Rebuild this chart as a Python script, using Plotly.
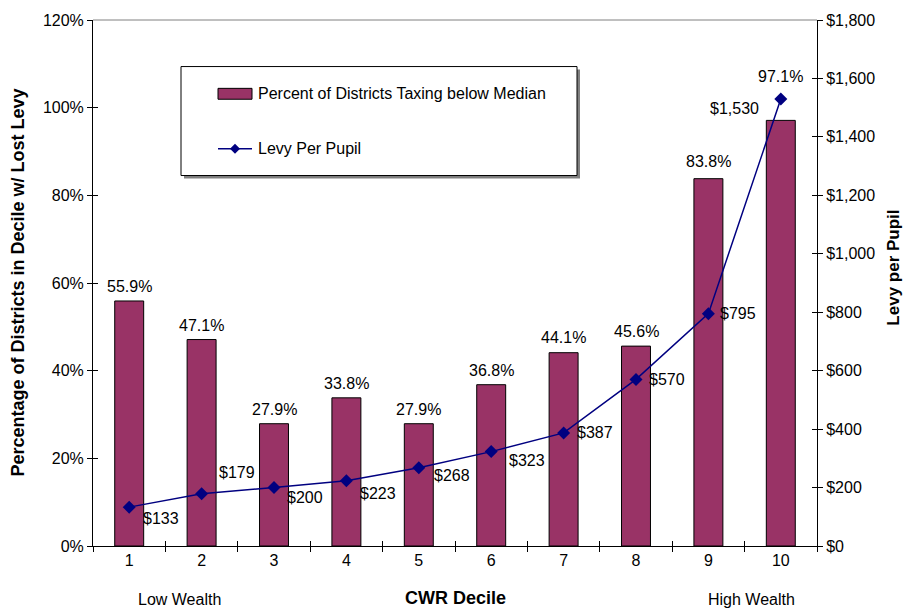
import plotly.graph_objects as go

deciles = ["1", "2", "3", "4", "5", "6", "7", "8", "9", "10"]
pct_below_median = [55.9, 47.1, 27.9, 33.8, 27.9, 36.8, 44.1, 45.6, 83.8, 97.1]
levy_per_pupil = [133, 179, 200, 223, 268, 323, 387, 570, 795, 1530]
left_ticks = [0, 20, 40, 60, 80, 100, 120]
right_ticks = [0, 200, 400, 600, 800, 1000, 1200, 1400, 1600, 1800]
bar_name = "Percent of Districts Taxing below Median"
line_name = "Levy Per Pupil"

# label offsets (px)
lab_dx = [12, 15, 11, 12, 13, 16, 11, 11, 10, -20]
lab_dy = [-11, 21, -10, -13, -8, -9, 0, 0, 0, -10]
lab_anchor = ["left"] * 9 + ["right"]
pct_dy = [14, 14, 14, 14, 14, 14, 15, 15, 17, 44]

FONT = "Arial, Liberation Sans, sans-serif"
FS = 16
TFS = 18
BAR_COLOR = "#993366"
LINE_COLOR = "#000080"
W, H = 905, 611
L, R, T, B = 93, 88, 15, 65
pw, ph = W - L - R, H - T - B


def px(x):
    return (x - L) / pw


def py(y):
    return (H - B - y) / ph


fig = go.Figure()
fig.add_trace(go.Bar(
    x=list(range(len(deciles))), y=pct_below_median, name=bar_name,
    marker=dict(color=BAR_COLOR, line=dict(color="black", width=1)),
    width=0.4, showlegend=False,
))
fig.add_trace(go.Scatter(
    x=list(range(len(deciles))), y=levy_per_pupil, name=line_name, yaxis="y2",
    mode="lines+markers", line=dict(color=LINE_COLOR, width=1.5),
    marker=dict(symbol="diamond", size=10, color=LINE_COLOR),
    cliponaxis=False, showlegend=False,
))

blk = dict(family=FONT, color="black")
ann = []
for i, v in enumerate(pct_below_median):
    ann.append(dict(x=i, y=v, xref="x", yref="y", text=f"{v:.1f}%", showarrow=False,
                    xanchor="center", yanchor="middle", yshift=pct_dy[i],
                    font=dict(size=FS, **blk)))
for i, v in enumerate(levy_per_pupil):
    ann.append(dict(x=i, y=v, xref="x", yref="y2", text=f"${v:,}", showarrow=False,
                    xanchor=lab_anchor[i], yanchor="middle", xshift=lab_dx[i], yshift=lab_dy[i],
                    font=dict(size=FS, **blk)))

ann += [
    dict(x=px(18), y=py(280), xref="paper", yref="paper",
         text="<b>Percentage of Districts in Decile w/ Lost Levy</b>",
         textangle=-90, showarrow=False, xanchor="center", yanchor="middle", font=dict(size=TFS, **blk)),
    dict(x=px(894), y=py(265), xref="paper", yref="paper", text="<b>Levy per Pupil</b>", textangle=-90,
         showarrow=False, xanchor="center", yanchor="middle", font=dict(size=17, **blk)),
    dict(x=0.5, y=py(598), xref="paper", yref="paper", text="<b>CWR Decile</b>", showarrow=False,
         xanchor="center", yanchor="middle", font=dict(size=TFS, **blk)),
    dict(x=0.69, y=py(600), xref="x", yref="paper", text="Low Wealth", showarrow=False,
         xanchor="center", yanchor="middle", font=dict(size=FS, **blk)),
    dict(x=8.6, y=py(600), xref="x", yref="paper", text="High Wealth", showarrow=False,
         xanchor="center", yanchor="middle", font=dict(size=FS, **blk)),
    # legend texts
    dict(x=px(256), y=py(89), xref="paper", yref="paper", text=bar_name, showarrow=False,
         xanchor="left", yanchor="middle", font=dict(size=FS, **blk)),
    dict(x=px(256), y=py(145), xref="paper", yref="paper", text=line_name, showarrow=False,
         xanchor="left", yanchor="middle", font=dict(size=FS, **blk)),
]

dx, dy = 5, 5
cx, cy = 235, 145
shapes = [
    # plot area top border
    dict(type="line", xref="paper", yref="paper", x0=0, x1=1, y0=1, y1=1, line=dict(color="#808080", width=1)),
    # legend shadow + box
    dict(type="rect", xref="paper", yref="paper", x0=px(184), x1=px(580), y0=py(175), y1=py(65),
         fillcolor="#808080", line=dict(width=0), layer="above"),
    dict(type="rect", xref="paper", yref="paper", x0=px(181), x1=px(577), y0=py(172), y1=py(62),
         fillcolor="white", line=dict(color="black", width=1), layer="above"),
    # legend swatches
    dict(type="rect", xref="paper", yref="paper", x0=px(218), x1=px(252), y0=py(95), y1=py(84),
         fillcolor=BAR_COLOR, line=dict(color="black", width=1), layer="above"),
    dict(type="line", xref="paper", yref="paper", x0=px(218), x1=px(252), y0=py(145), y1=py(145),
         line=dict(color=LINE_COLOR, width=1.5), layer="above"),
    dict(type="path", xref="paper", yref="paper", layer="above",
         path=(f"M {px(cx - dx)} {py(cy)} L {px(cx)} {py(cy - dy)} L {px(cx + dx)} {py(cy)} "
               f"L {px(cx)} {py(cy + dy)} Z"),
         fillcolor=LINE_COLOR, line=dict(color=LINE_COLOR, width=0)),
]

tickfont = dict(size=FS, **blk)
fig.update_layout(
    width=W, height=H, margin=dict(l=L, r=R, t=T, b=B),
    paper_bgcolor="white", plot_bgcolor="white",
    font=dict(family=FONT, size=FS, color="black"),
    xaxis=dict(type="linear", tickvals=list(range(len(deciles))), ticktext=deciles, ticks="",
               showline=True, linecolor="black", linewidth=1, showgrid=False, zeroline=False,
               tickfont=tickfont, range=[-0.5, len(deciles) - 0.5]),
    xaxis2=dict(overlaying="x", type="linear", range=[-0.5, len(deciles) - 0.5], tick0=-0.5, dtick=1,
                ticks="outside", ticklen=5, tickcolor="black", showticklabels=False, showline=False,
                showgrid=False, side="bottom", anchor="y", zeroline=False),
    xaxis3=dict(overlaying="x", type="linear", range=[-0.5, len(deciles) - 0.5], tick0=-0.5, dtick=1,
                ticks="inside", ticklen=5, tickcolor="black", showticklabels=False, showline=False,
                showgrid=False, side="bottom", anchor="y", zeroline=False),
    yaxis=dict(range=[0, 120], tickvals=left_ticks, ticktext=[f"{v}%" for v in left_ticks],
               ticks="outside", ticklen=5, tickcolor="black", showline=True, linecolor="black",
               showgrid=False, zeroline=False, tickfont=tickfont),
    yaxis2=dict(range=[0, 1800], tickvals=right_ticks, ticktext=[f"${v:,}" for v in right_ticks],
                overlaying="y", side="right", ticks="outside", ticklen=5, tickcolor="black",
                showline=True, linecolor="black", showgrid=False, zeroline=False, tickfont=tickfont),
    yaxis3=dict(range=[0, 120], tickvals=left_ticks, overlaying="y", side="left", ticks="inside",
                ticklen=5, tickcolor="black", showticklabels=False, showline=False, showgrid=False,
                zeroline=False, anchor="x"),
    yaxis4=dict(range=[0, 1800], tickvals=right_ticks, overlaying="y", side="right", ticks="inside",
                ticklen=5, tickcolor="black", showticklabels=False, showline=False, showgrid=False,
                zeroline=False, anchor="x"),
    showlegend=False,
    annotations=ann, shapes=shapes,
)
# empty traces that switch on the overlay tick axes
fig.add_trace(go.Scatter(x=[None], y=[None], xaxis="x2", yaxis="y3", showlegend=False, hoverinfo="skip"))
fig.add_trace(go.Scatter(x=[None], y=[None], xaxis="x3", yaxis="y4", showlegend=False, hoverinfo="skip"))

fig.write_html("out.html")
